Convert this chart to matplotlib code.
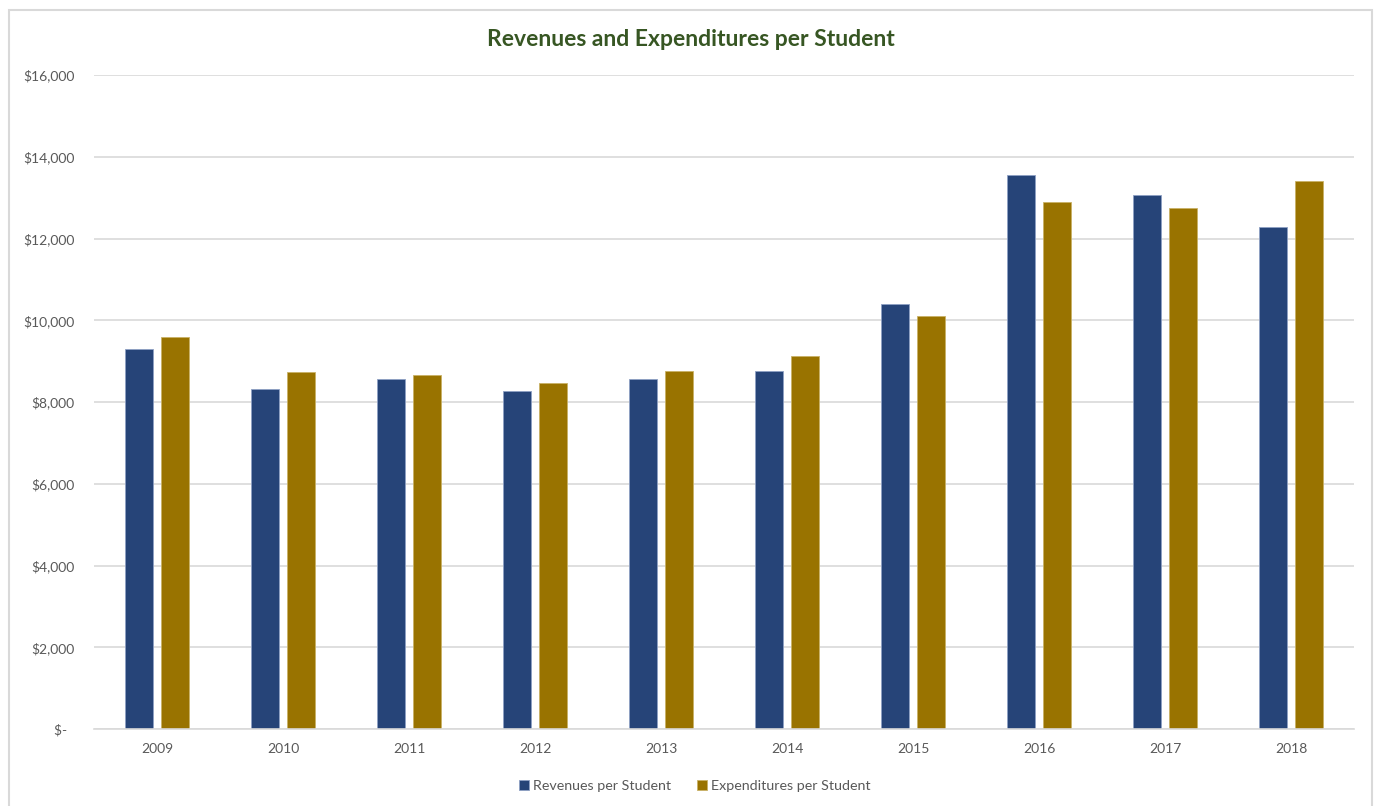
import matplotlib
matplotlib.use("Agg")
import matplotlib.pyplot as plt
from matplotlib.patches import Rectangle
from matplotlib.ticker import FuncFormatter
import numpy as np

years = ["2009", "2010", "2011", "2012", "2013", "2014", "2015", "2016", "2017", "2018"]
revenues = [9300, 8330, 8555, 8270, 8555, 8770, 10405, 13550, 13070, 12270]
expenditures = [9585, 8725, 8660, 8470, 8750, 9115, 10105, 12900, 12740, 13405]
yticks = [0, 2000, 4000, 6000, 8000, 10000, 12000, 14000, 16000]

title = "Revenues and Expenditures per Student"
rev_label = "Revenues per Student"
exp_label = "Expenditures per Student"

plt.rcParams['font.family'] = ['Lato', 'DejaVu Sans']

fig = plt.figure(figsize=(13.77, 8.06), dpi=100)
ax = fig.add_axes([94/1377, 1 - 729/806, 1260/1377, 654/806])

x = np.arange(len(years))
w = 0.222
off = 0.143
ax.bar(x - off, revenues, width=w, color="#264478", edgecolor="#8ea0c4", linewidth=0.6, label=rev_label, zorder=3)
ax.bar(x + off, expenditures, width=w, color="#997300", edgecolor="#c9b266", linewidth=0.6, label=exp_label, zorder=3)

ax.set_xlim(-0.5, len(years) - 0.5)
ax.set_ylim(0, 16000)
ax.set_yticks(yticks)

def fmt(v, pos):
    if v == 0:
        return "$-  "
    return "${:,.0f}".format(v)

ax.yaxis.set_major_formatter(FuncFormatter(fmt))
ax.set_xticks(x)
ax.set_xticklabels(years)
ax.tick_params(axis='both', length=0, colors="#595959", labelsize=10)
ax.tick_params(axis='y', pad=14)
ax.tick_params(axis='x', pad=10)
ax.grid(axis='y', color="#d9d9d9", linewidth=1.2, zorder=0)
for s in ["top", "right", "left"]:
    ax.spines[s].set_visible(False)
ax.spines["bottom"].set_color("#d9d9d9")
ax.spines["bottom"].set_linewidth(1.2)
ax.spines["bottom"].set_zorder(4)

fig.text(691/1377, 1 - 40/806, title, ha="center", va="center", fontsize=16.5,
         fontweight="bold", color="#375623")

leg = fig.legend(loc="center", bbox_to_anchor=(695/1377, 1 - 786/806), ncol=2, frameon=False,
                 fontsize=10.3, handlelength=0.7, handleheight=0.7, handletextpad=0.3,
                 columnspacing=1.8, labelcolor="#595959")

fig.patches.append(Rectangle((9/1377, -0.01), 1363/1377, 1 - 10/806 + 0.01,
                             transform=fig.transFigure, fill=False,
                             edgecolor="#d9d9d9", linewidth=1.5))

fig.savefig("out.png", dpi=100)
